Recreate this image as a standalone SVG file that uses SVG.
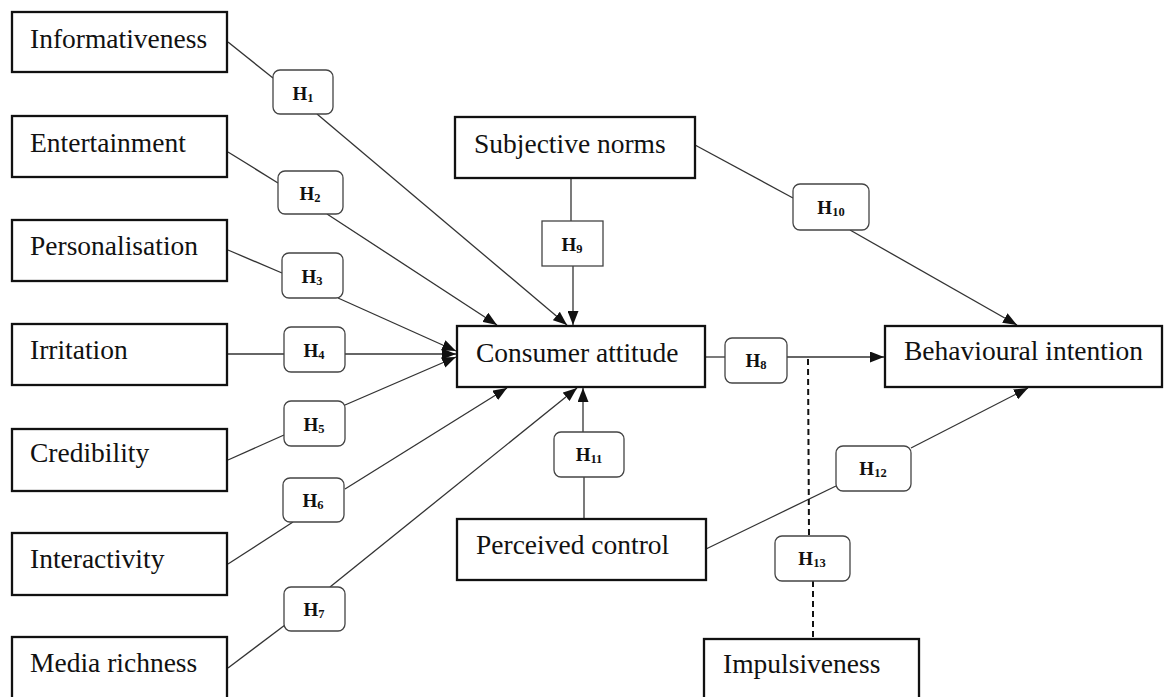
<svg xmlns="http://www.w3.org/2000/svg" width="1165" height="697" viewBox="0 0 1165 697">
  <style>
    .box { fill: #ffffff; stroke: #111111; stroke-width: 2.3; }
    .hyp { fill: #ffffff; stroke: #444444; stroke-width: 1.3; }
    .lbl { font-family: "Liberation Serif", "Times New Roman", serif; font-size: 27.5px; fill: #111111; }
    .h { font-family: "Liberation Serif", "Times New Roman", serif; font-size: 19px; font-weight: bold; fill: #111111; text-anchor: middle; }
    .sub { font-size: 12.5px; }
    .edge { fill: none; stroke: #333333; stroke-width: 1.3; }
    .dash { fill: none; stroke: #111111; stroke-width: 2; stroke-dasharray: 6 4; }
  </style>
  <defs>
    <marker id="arrow" viewBox="0 0 14 11" refX="14" refY="5.5" markerWidth="14" markerHeight="11" markerUnits="userSpaceOnUse" orient="auto">
      <path d="M0,0 L14,5.5 L0,11 z" fill="#111111"/>
    </marker>
  </defs>
  <rect width="1165" height="697" fill="#ffffff"/>

  <!-- connectors -->
  <g id="connectors">
    <path class="edge" d="M228,42 L273,78"/>
    <path class="edge" d="M317,114 L567,325" marker-end="url(#arrow)"/>
    <path class="edge" d="M228,152 L278,183"/>
    <path class="edge" d="M327,214 L497,325" marker-end="url(#arrow)"/>
    <path class="edge" d="M228,250 L282,273"/>
    <path class="edge" d="M338,298 L456,351" marker-end="url(#arrow)"/>
    <path class="edge" d="M228,354 L284,354"/>
    <path class="edge" d="M345,354 L456,354" marker-end="url(#arrow)"/>
    <path class="edge" d="M228,460 L284,435"/>
    <path class="edge" d="M345,405 L456,357" marker-end="url(#arrow)"/>
    <path class="edge" d="M228,564 L293,522"/>
    <path class="edge" d="M345,489 L507,388" marker-end="url(#arrow)"/>
    <path class="edge" d="M228,668 L285,625"/>
    <path class="edge" d="M330,587 L577,388" marker-end="url(#arrow)"/>
    <path class="edge" d="M571,178 L571,221"/>
    <path class="edge" d="M573,266 L573,325" marker-end="url(#arrow)"/>
    <path class="edge" d="M695,145 L793,198"/>
    <path class="edge" d="M850,230 L1017,325" marker-end="url(#arrow)"/>
    <path class="edge" d="M706,357 L725,357"/>
    <path class="edge" d="M787,357 L884,357" marker-end="url(#arrow)"/>
    <path class="edge" d="M584,519 L584,477"/>
    <path class="edge" d="M583,432 L583,388" marker-end="url(#arrow)"/>
    <path class="edge" d="M706,549 L836,486"/>
    <path class="edge" d="M911,448 L1028,388" marker-end="url(#arrow)"/>
    <path class="dash" d="M808,359 L809,536"/>
    <path class="dash" d="M813,581 L813,639"/>
  </g>

  <!-- construct nodes -->
  <g id="informativeness"><rect class="box" x="12" y="12" width="215" height="60"/><text class="lbl" x="30" y="48">Informativeness</text></g>
  <g id="entertainment"><rect class="box" x="12" y="116" width="215" height="61"/><text class="lbl" x="30" y="152">Entertainment</text></g>
  <g id="personalisation"><rect class="box" x="12" y="220" width="215" height="61"/><text class="lbl" x="30" y="255">Personalisation</text></g>
  <g id="irritation"><rect class="box" x="12" y="324" width="215" height="61"/><text class="lbl" x="30" y="359">Irritation</text></g>
  <g id="credibility"><rect class="box" x="12" y="429" width="215" height="62"/><text class="lbl" x="30" y="462">Credibility</text></g>
  <g id="interactivity"><rect class="box" x="12" y="533" width="215" height="62"/><text class="lbl" x="30" y="568">Interactivity</text></g>
  <g id="media-richness"><rect class="box" x="12" y="637" width="215" height="75"/><text class="lbl" x="30" y="672">Media richness</text></g>
  <g id="subjective-norms"><rect class="box" x="455" y="117" width="240" height="61"/><text class="lbl" x="474" y="153">Subjective norms</text></g>
  <g id="consumer-attitude"><rect class="box" x="457" y="326" width="248" height="61"/><text class="lbl" x="476" y="362">Consumer attitude</text></g>
  <g id="perceived-control"><rect class="box" x="457" y="519" width="249" height="61"/><text class="lbl" x="476" y="554">Perceived control</text></g>
  <g id="behavioural-intention"><rect class="box" x="885" y="326" width="277" height="61"/><text class="lbl" x="904" y="360">Behavioural intention</text></g>
  <g id="impulsiveness"><rect class="box" x="704" y="639" width="215" height="75"/><text class="lbl" x="723" y="673">Impulsiveness</text></g>

  <!-- hypothesis labels -->
  <g id="h1"><rect class="hyp" x="273" y="70" width="60" height="44" rx="7"/><text class="h" x="303" y="100">H<tspan class="sub" dy="2">1</tspan></text></g>
  <g id="h2"><rect class="hyp" x="278" y="171" width="65" height="43" rx="7"/><text class="h" x="310" y="200">H<tspan class="sub" dy="2">2</tspan></text></g>
  <g id="h3"><rect class="hyp" x="282" y="253" width="61" height="45" rx="7"/><text class="h" x="312" y="283">H<tspan class="sub" dy="2">3</tspan></text></g>
  <g id="h4"><rect class="hyp" x="284" y="327" width="61" height="45" rx="7"/><text class="h" x="314" y="357">H<tspan class="sub" dy="2">4</tspan></text></g>
  <g id="h5"><rect class="hyp" x="284" y="401" width="61" height="45" rx="7"/><text class="h" x="314" y="431">H<tspan class="sub" dy="2">5</tspan></text></g>
  <g id="h6"><rect class="hyp" x="283" y="478" width="61" height="44" rx="7"/><text class="h" x="313" y="507">H<tspan class="sub" dy="2">6</tspan></text></g>
  <g id="h7"><rect class="hyp" x="284" y="587" width="61" height="44" rx="7"/><text class="h" x="314" y="616">H<tspan class="sub" dy="2">7</tspan></text></g>
  <g id="h8"><rect class="hyp" x="725" y="338" width="62" height="45" rx="7"/><text class="h" x="756" y="367">H<tspan class="sub" dy="2">8</tspan></text></g>
  <g id="h9"><rect class="hyp" x="542" y="221" width="61" height="45"/><text class="h" x="572" y="251">H<tspan class="sub" dy="2">9</tspan></text></g>
  <g id="h10"><rect class="hyp" x="793" y="184" width="76" height="46" rx="7"/><text class="h" x="831" y="214">H<tspan class="sub" dy="2">10</tspan></text></g>
  <g id="h11"><rect class="hyp" x="554" y="432" width="70" height="45" rx="7"/><text class="h" x="589" y="461">H<tspan class="sub" dy="2">11</tspan></text></g>
  <g id="h12"><rect class="hyp" x="836" y="446" width="75" height="45" rx="7"/><text class="h" x="873" y="475">H<tspan class="sub" dy="2">12</tspan></text></g>
  <g id="h13"><rect class="hyp" x="775" y="536" width="75" height="45" rx="7"/><text class="h" x="812" y="565">H<tspan class="sub" dy="2">13</tspan></text></g>
</svg>
